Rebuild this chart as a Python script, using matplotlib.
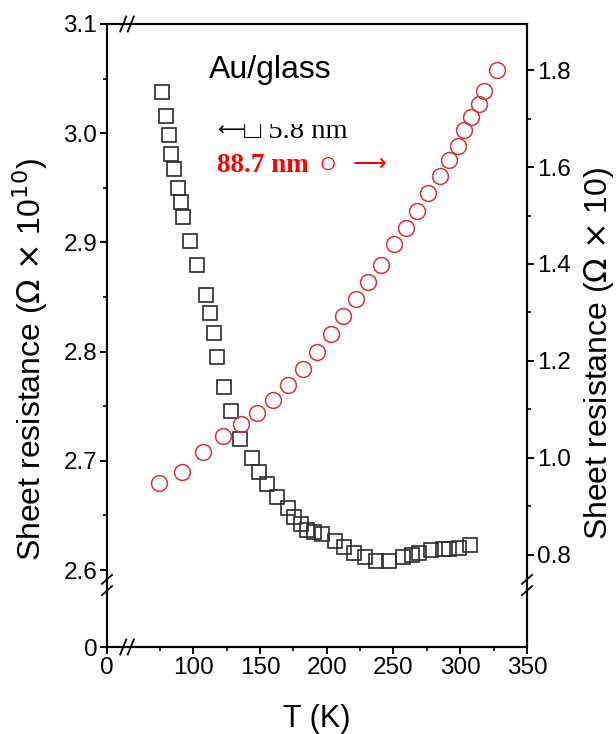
import numpy as np
import matplotlib
matplotlib.use('Agg')
import matplotlib.pyplot as plt
from matplotlib.patches import Rectangle
from matplotlib.ticker import FuncFormatter

plt.rcParams['font.family'] = ['Liberation Sans', 'DejaVu Sans']

# 5.8 nm film (left axis, x 10^10 ohm)
t_thin = [76.3, 79.3, 82.0, 83.1, 85.8, 88.3, 90.6, 92.5, 97.5, 102.5,
          109.5, 112.5, 115.7, 117.5, 123.2, 128.2, 135.0, 143.7, 149.2, 154.9,
          162.9, 171.1, 175.4, 180.4, 185.5, 190.7, 196.1, 206.1, 212.8, 220.7,
          228.9, 236.8, 246.9, 257.2, 263.5, 269.2, 278.3, 286.9, 291.6, 298.9,
          307.5]
r_thin = [3.038, 3.016, 2.998, 2.981, 2.967, 2.950, 2.937, 2.923, 2.901, 2.879,
          2.852, 2.835, 2.817, 2.795, 2.768, 2.746, 2.720, 2.703, 2.690, 2.679,
          2.667, 2.657, 2.649, 2.642, 2.637, 2.635, 2.633, 2.627, 2.621, 2.616,
          2.612, 2.608, 2.608, 2.612, 2.614, 2.616, 2.618, 2.619, 2.619, 2.620,
          2.623]

# 88.7 nm film (right axis, x 10 ohm)
t_thick = [74.3, 91.3, 107.5, 122.0, 135.9, 147.5, 159.7, 171.1, 181.9, 192.6,
           203.1, 212.3, 222.2, 231.0, 241.0, 250.2, 259.1, 267.4, 275.9, 284.7,
           291.8, 298.4, 302.6, 308.1, 314.0, 317.6, 327.3]
r_thick = [0.949, 0.970, 1.013, 1.046, 1.070, 1.093, 1.119, 1.150, 1.184, 1.219,
           1.256, 1.292, 1.327, 1.362, 1.398, 1.441, 1.475, 1.509, 1.547, 1.581,
           1.615, 1.644, 1.676, 1.703, 1.730, 1.756, 1.801]

x_major = [0, 100, 150, 200, 250, 300, 350]
x_minor = [75, 125, 175, 225, 275, 325]
yl_major = [0, 2.6, 2.7, 2.8, 2.9, 3.0, 3.1]
yl_minor = [2.65, 2.75, 2.85, 2.95, 3.05]
yr_major = [0.8, 1.0, 1.2, 1.4, 1.6, 1.8]
yr_minor = [0.9, 1.1, 1.3, 1.5, 1.7]

# broken axes: squeeze the empty stretch below the break
XB, X0 = 60.0, 35.4
YB, Y0 = 2.58, 2.5295


def fwd_x(x):
    x = np.asarray(x, float)
    return np.where(x >= XB, x, X0 + x * (XB - X0) / XB)


def inv_x(u):
    u = np.asarray(u, float)
    return np.where(u >= XB, u, (u - X0) * XB / (XB - X0))


def fwd_y(y):
    y = np.asarray(y, float)
    return np.where(y >= YB, y, Y0 + y * (YB - Y0) / YB)


def inv_y(u):
    u = np.asarray(u, float)
    return np.where(u >= YB, u, (u - Y0) * YB / (YB - Y0))


fig = plt.figure(figsize=(6.16, 7.34), dpi=100)
ax = fig.add_axes([107 / 616, 1 - 647 / 734, 420 / 616, 623 / 734])
ax.set_xscale('function', functions=(fwd_x, inv_x))
ax.set_yscale('function', functions=(fwd_y, inv_y))
ax.set_xlim(0, 350)
ax.set_ylim(0, 3.1)

ax2 = ax.twinx()
ax2.set_ylim(0.610, 1.895)

ax.plot(t_thin, r_thin, ls='none', marker='s', ms=10.3, mfc='none',
        mec='#2b2b2b', mew=1.2, clip_on=False, zorder=3)
ax2.plot(t_thick, r_thick, ls='none', marker='o', ms=11.4, mfc='none',
         mec='#d6303a', mew=1.1, clip_on=False, zorder=3)

fmt = FuncFormatter(lambda v, p: '0' if v == 0 else f'{v:.1f}')
ax.set_xticks(x_major)
ax.set_xticks(x_minor, minor=True)
ax.set_xticklabels([str(v) for v in x_major])
ax.set_yticks(yl_major)
ax.set_yticks(yl_minor, minor=True)
ax.yaxis.set_major_formatter(fmt)
ax2.set_yticks(yr_major)
ax2.set_yticks(yr_minor, minor=True)
ax2.yaxis.set_major_formatter(FuncFormatter(lambda v, p: f'{v:.1f}'))

for a in (ax, ax2):
    for s in a.spines.values():
        s.set_linewidth(1.5)
    a.tick_params(which='major', direction='out', length=5, width=1.4,
                  labelsize=17.5, pad=2)
    a.tick_params(which='minor', direction='out', length=3, width=1.2)

ax.set_xlabel('T (K)', fontsize=22)
ax.xaxis.set_label_coords(0.5, -0.092)
ax.set_ylabel('Sheet resistance ($\\Omega$ $\\times$ 10$^{10}$)', fontsize=23,
              ha='center', va='center')
ax.yaxis.set_label_coords(-0.183, 0.462)
ax2.set_ylabel('Sheet resistance ($\\Omega$ $\\times$ 10)', fontsize=23,
               ha='center', va='center')
ax2.yaxis.set_label_coords(1.172, 0.472)

# break marks on the spines
bx = 20 / 420
by = 62 / 623
d, g = 0.012, 0.009
for yy in (0, 1):
    for off in (-g, g):
        ax.plot([bx + off - d * 0.6, bx + off + d * 0.6], [yy - d, yy + d],
                transform=ax.transAxes, color='black', lw=1.3, clip_on=False)
for xx in (0, 1):
    for off in (-g, g):
        ax.plot([xx - d, xx + d], [by + off - d * 0.6, by + off + d * 0.6],
                transform=ax.transAxes, color='black', lw=1.3, clip_on=False)

serif = ['Liberation Serif', 'DejaVu Serif', 'DejaVu Sans']
fig.text(270 / 616, 1 - 70 / 734, 'Au/glass', fontsize=23, ha='center',
         va='center')
fig.text(217 / 616, 1 - 130 / 734, '\u27f5', fontsize=14,
         family=['DejaVu Sans'], ha='left', va='center', color='black')
fig.text(244 / 616, 1 - 131 / 734, '\u25a1 5.8 nm', fontsize=20.5,
         family=serif, ha='left', va='center', color='black')
fig.text(217 / 616, 1 - 166 / 734, '88.7 nm', fontsize=19.5, weight='bold',
         family=serif, ha='left', va='center', color='red')
fig.text(328 / 616, 1 - 165 / 734, '\u25cb', fontsize=22, family=serif,
         ha='center', va='center', color='red')
fig.text(353 / 616, 1 - 164 / 734, '\u27f6', fontsize=17,
         family=['DejaVu Sans'], ha='left', va='center', color='red')

# the top of the thin-film label line is masked off
fig.add_artist(Rectangle((240 / 616, 1 - 124 / 734), 130 / 616, 22 / 734,
                         transform=fig.transFigure, facecolor='white',
                         edgecolor='none', zorder=5))

fig.savefig('out.png', dpi=100)
